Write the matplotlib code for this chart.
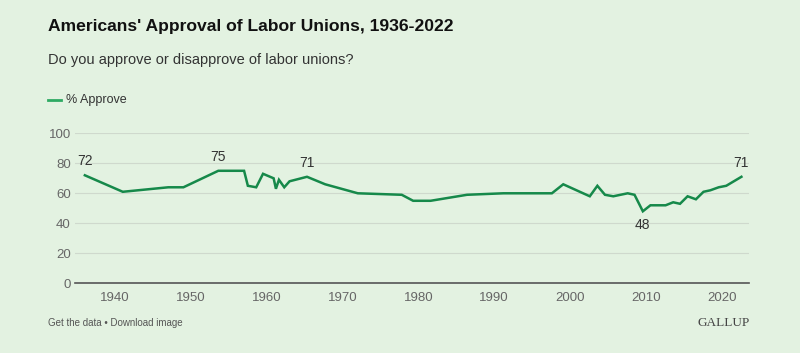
import matplotlib
matplotlib.use("Agg")
import matplotlib.pyplot as plt
from matplotlib.lines import Line2D

# Gallup: % who approve of labor unions (survey dates as decimal years)
years = [1936.0, 1941.0, 1947.0, 1949.0, 1953.6, 1957.0, 1957.5, 1958.6, 1959.5,
         1960.9, 1961.2, 1961.6, 1962.3, 1963.0, 1965.3, 1967.7, 1972.0, 1977.8,
         1979.3, 1981.6, 1986.4, 1991.2, 1997.6, 1999.1, 2002.6, 2003.6, 2004.6,
         2005.7, 2007.6, 2008.5, 2009.6, 2010.6, 2012.6, 2013.6, 2014.5, 2015.5,
         2016.6, 2017.6, 2018.5, 2019.6, 2020.6, 2022.6]
approve = [72, 61, 64, 64, 75, 75, 65, 64, 73,
           70, 63, 69, 64, 68, 71, 66, 60, 59,
           55, 55, 59, 60, 60, 66, 58, 65, 59,
           58, 60, 59, 48, 52, 52, 54, 53, 58,
           56, 61, 62, 64, 65, 71]

# labelled points: (index, position)
labelled = [(0, "above"), (4, "above"), (14, "above"), (30, "below"), (41, "above")]

xticks = [1940, 1950, 1960, 1970, 1980, 1990, 2000, 2010, 2020]
yticks = [0, 20, 40, 60, 80, 100]

bg = "#e3f2e1"
line_col = "#16894a"
plt.rcParams['font.family'] = ['Liberation Sans', 'DejaVu Sans']

fig = plt.figure(figsize=(8, 3.53), dpi=100, facecolor=bg)
ax = fig.add_axes([0.09375, 0.1975, 0.8425, 0.4249])
ax.set_facecolor(bg)

ax.plot(years, approve, color=line_col, lw=1.8, solid_joinstyle="miter")

for i, pos in labelled:
    if pos == "above":
        ax.annotate(str(approve[i]), (years[i], approve[i]), xytext=(0, 5),
                    textcoords="offset points", ha="center", va="bottom",
                    fontsize=10, color="#333333")
    else:
        ax.annotate(str(approve[i]), (years[i], approve[i]), xytext=(0, -5),
                    textcoords="offset points", ha="center", va="top",
                    fontsize=10, color="#333333")

ax.set_xlim(1934.7, 2023.6)
ax.set_ylim(0, 100)
ax.set_xticks(xticks)
ax.set_yticks(yticks)
ax.tick_params(length=0, labelsize=9.5, labelcolor="#666666")
ax.tick_params(axis="x", pad=6)
ax.tick_params(axis="y", pad=3)
ax.grid(axis="y", color="#cfd9cd", lw=0.8)
ax.set_axisbelow(True)
for s in ["top", "right", "left"]:
    ax.spines[s].set_visible(False)
ax.spines["bottom"].set_color("#555555")
ax.spines["bottom"].set_linewidth(1.2)

fig.text(0.06, 0.925, "Americans' Approval of Labor Unions, 1936-2022",
         fontsize=12.6, fontweight="bold", color="#111111", va="center")
fig.text(0.06, 0.829, "Do you approve or disapprove of labor unions?",
         fontsize=10.5, color="#333333", va="center")
fig.add_artist(Line2D([0.06, 0.0765], [0.718, 0.718], color="#2eaa63", lw=2))
fig.text(0.0825, 0.718, "% Approve", fontsize=9, color="#333333", va="center")

fig.text(0.06, 0.085, "Get the data \u2022 Download image",
         fontsize=7, color="#555555", va="center")
fig.text(0.937, 0.085, "GALLUP", fontsize=9.5, color="#444444", va="center",
         ha="right", family=["Liberation Serif", "DejaVu Serif"])

fig.savefig("out.png", dpi=100, facecolor=bg)
